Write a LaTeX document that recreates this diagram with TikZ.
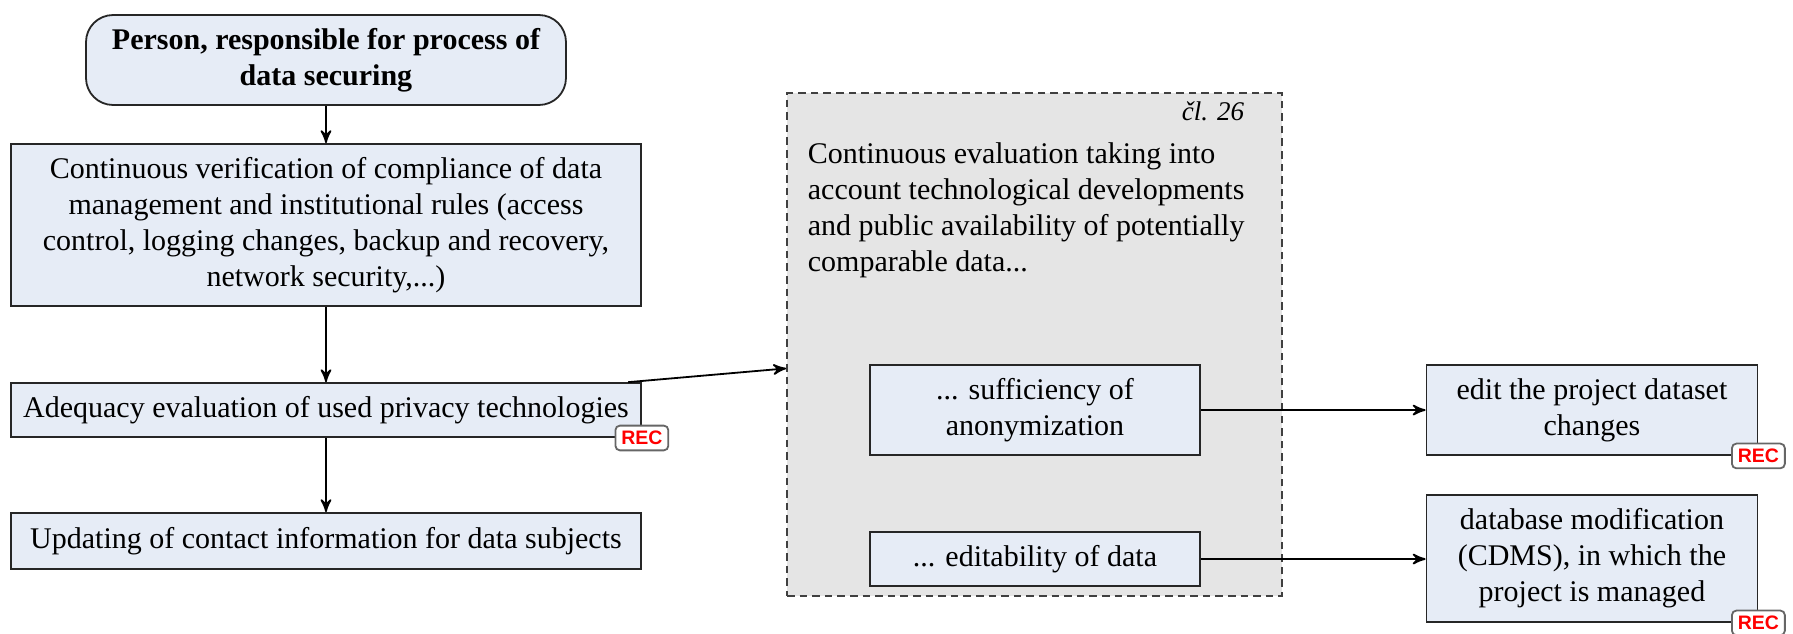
\documentclass[tikz,border=0pt]{standalone}
\usepackage{fontspec}
\setmainfont{Liberation Serif}
\setsansfont{Liberation Sans}
\usetikzlibrary{arrows, positioning}

\definecolor{boxblue}{HTML}{E6ECF6}
\definecolor{groupgray}{HTML}{E5E5E5}

\begin{document}
\begin{tikzpicture}[>=stealth', line width=0.6pt,
	box/.style={draw=black!85, fill=boxblue, align=center, inner sep=0pt, font=\fontsize{10}{12}\selectfont},
	rec/.style={draw=black!60, fill=white, rounded corners=1.5pt, text=red, inner sep=0pt,
		font=\sffamily\bfseries\fontsize{6.5}{7}\selectfont, minimum width=0.62cm, minimum height=0.29cm}]
	\useasboundingbox (0,0) rectangle (21.005,7.416);

	% gray frame for the article
	\node[draw=black!75, dash pattern=on 2.5pt off 1.7pt, fill=groupgray, minimum width=5.8cm, minimum height=5.89cm, inner sep=0pt] at (12.12,3.38) (group){};
	\node[anchor=base east, inner sep=0pt, font=\itshape\fontsize{9}{11}\selectfont] at (14.585,6.01) (art){čl. 26};
	\node[anchor=north west, inner sep=0pt, align=left, font=\fontsize{10}{12}\selectfont] at (9.454,5.76) (desc){Continuous evaluation taking into\\account technological developments\\and public availability of potentially\\comparable data...};

	% left column
	\node[box, rounded corners=9pt, minimum width=5.623cm, minimum height=1.054cm, font=\bfseries\fontsize{10}{12}\selectfont] at (3.819,6.713) (person){Person, responsible for process of\\data securing};
	\node[box, minimum width=7.38cm, minimum height=1.898cm] at (3.819,4.78) (verify){Continuous verification of compliance of data\\management and institutional rules (access\\control, logging changes, backup and recovery,\\network security,...)};
	\node[box, minimum width=7.38cm, minimum height=0.633cm] at (3.819,2.612) (adequacy){Adequacy evaluation of used privacy technologies};
	\node[box, minimum width=7.38cm, minimum height=0.656cm] at (3.819,1.078) (contact){Updating of contact information for data subjects};

	% inside the frame
	\node[box, minimum width=3.866cm, minimum height=1.054cm] at (12.125,2.612) (anon){... sufficiency of\\anonymization};
	\node[box, minimum width=3.866cm, minimum height=0.633cm] at (12.125,0.867) (editdata){... editability of data};

	% right column
	\node[box, minimum width=3.878cm, minimum height=1.054cm] at (18.65,2.612) (dataset){edit the project dataset\\changes};
	\node[box, minimum width=3.878cm, minimum height=1.488cm] at (18.65,0.873) (cdms){database modification\\(CDMS), in which the\\project is managed};

	\node[rec] at (adequacy.south east) (rec1){REC};
	\node[rec] at (dataset.south east) (rec2){REC};
	\node[rec] at (cdms.south east) (rec3){REC};

	\draw[->] (person) -- (verify);
	\draw[->] (verify) -- (adequacy);
	\draw[->] (adequacy) -- (contact);
	\draw[->] ([xshift=-0.16cm]adequacy.north east) -- ([yshift=-0.28cm]group.west);
	\draw[->] (anon) -- (dataset);
	\draw[->] (editdata) -- (editdata -| cdms.west);
\end{tikzpicture}
\end{document}
